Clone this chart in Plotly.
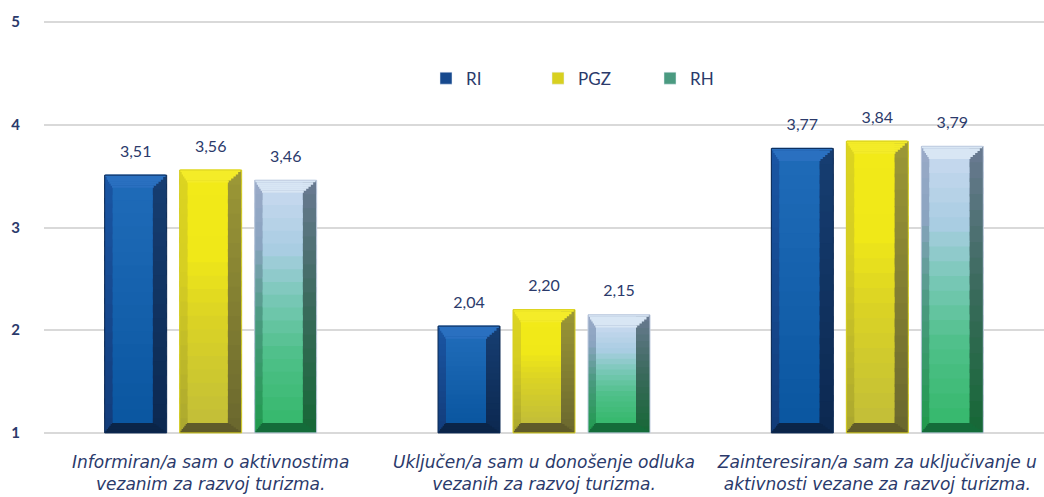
import plotly.graph_objects as go

# ---------------- data ----------------
categories = [
    "Informiran/a sam o aktivnostima<br>vezanim za razvoj turizma.",
    "Uključen/a sam u donošenje odluka<br>vezanih za razvoj turizma.",
    "Zainteresiran/a sam za uključivanje u<br>aktivnosti vezane za razvoj turizma.",
]
series_names = ["RI", "PGZ", "RH"]
ri_values = [3.51, 2.04, 3.77]
pgz_values = [3.56, 2.20, 3.84]
rh_values = [3.46, 2.15, 3.79]
y_tick_values = [1, 2, 3, 4, 5]
y_min, y_max = 1, 5

values = {"RI": ri_values, "PGZ": pgz_values, "RH": rh_values}

# ---------------- styles ----------------
TEXT = "#2b3a6b"
GRID = "#d9d9d9"
styles = {
    "RI": dict(face=[(0, "#0a56a0"), (1, "#1f6bb8")],
               left=[(0, "#123c7a"), (1, "#1a56a4")],
               right=[(0, "#0c2850"), (1, "#163e72")],
               top="#2a70c0", bottom="#0b2548", legend="#17498e", line="#0d2a55"),
    "PGZ": dict(face=[(0, "#c2be38"), (0.45, "#dcd424"), (0.7, "#f0e818"), (1, "#f2ea18")],
                left=[(0, "#aaa630"), (0.6, "#d6ce22"), (1, "#dcd420")],
                right=[(0, "#6a672e"), (1, "#9c9836")],
                top="#f4ec28", bottom="#5f5b2a", legend="#d8d020", line="#d8d020"),
    "RH": dict(face=[(0, "#36b86c"), (0.3, "#4fc08a"), (0.55, "#7ac8b8"), (0.75, "#a9cde2"), (1, "#c6d8ee")],
               left=[(0, "#1f9a4c"), (0.45, "#4a9a80"), (0.75, "#8aa4c0"), (1, "#9aaac8")],
               right=[(0, "#166836"), (0.5, "#3a6a5c"), (1, "#6a7a92")],
               top="#d8e6f4", bottom="#146c3a", legend="#4a9a80", line="#c0cce0"),
}

BAR_W = 0.186
GAP = 0.039
LEFT0 = -0.318
INSET_L = 0.024
INSET_R = 0.042
TOP_H = 0.117
BOT_H = 0.097
N_SEG = 18
N_STEP = 6
PAD = 0.03


def hex2rgb(h):
    h = h.lstrip("#")
    return tuple(int(h[i:i + 2], 16) for i in (0, 2, 4))


def interp(stops, f):
    for (f0, c0), (f1, c1) in zip(stops[:-1], stops[1:]):
        if f0 <= f <= f1:
            t = 0 if f1 == f0 else (f - f0) / (f1 - f0)
            a, b = hex2rgb(c0), hex2rgb(c1)
            r = [round(a[i] + (b[i] - a[i]) * t) for i in range(3)]
            return "rgb(%d,%d,%d)" % tuple(r)
    return stops[-1][1]


fig = go.Figure()


def gradient(bottoms, tops, offset, width, stops):
    for k in range(N_SEG):
        bases, heights = [], []
        for b, t in zip(bottoms, tops):
            h = t - b
            lo = b + h * k / N_SEG
            hi = b + h * min((k + 1.4) / N_SEG, 1.0)
            bases.append(lo)
            heights.append(hi - lo)
        fig.add_trace(go.Bar(
            x=categories, y=heights, base=bases, offset=offset, width=width,
            marker=dict(color=interp(stops, (k + 0.5) / N_SEG), line=dict(width=0)),
            showlegend=False, hoverinfo="skip"))


def bevel(edge, inward, off, color):
    # stepped trapezoid: wide at the outer edge, narrow at the face edge
    for k in range(N_STEP):
        frac = (k + 0.5) / N_STEP
        hstep = TOP_H if inward < 0 else BOT_H
        seg = hstep / N_STEP
        if inward < 0:
            bases = [e - seg * (k + 1) for e in edge]
        else:
            bases = [e + seg * k for e in edge]
        fig.add_trace(go.Bar(
            x=categories, y=[seg * 1.3] * len(edge) if k < N_STEP - 1 else [seg] * len(edge),
            base=bases if inward > 0 or k == 0 else [b - seg * 0.3 for b in bases],
            offset=off + INSET_L * frac, width=BAR_W - (INSET_L + INSET_R) * frac,
            marker=dict(color=color, line=dict(width=0)),
            showlegend=False, hoverinfo="skip"))


for i, name in enumerate(series_names):
    st = styles[name]
    v = values[name]
    off = LEFT0 + i * (BAR_W + GAP)
    base_line = [y_min] * len(v)
    gradient(base_line, v, off, BAR_W, st["right"])
    gradient(base_line, v, off, BAR_W - INSET_R, st["left"])
    gradient([y_min + BOT_H] * len(v), [x - TOP_H for x in v],
             off + INSET_L, BAR_W - INSET_L - INSET_R, st["face"])
    bevel(v, -1, off, st["top"])
    bevel(base_line, 1, off, st["bottom"])
    fig.add_trace(go.Bar(
        x=categories, y=[x - y_min for x in v], base=base_line,
        offset=off, width=BAR_W,
        marker=dict(color="rgba(0,0,0,0)", line=dict(width=1, color=st["line"])),
        showlegend=False, hoverinfo="skip"))
    fig.add_trace(go.Bar(
        x=categories, y=[0.12] * len(v), base=v,
        offset=off, width=BAR_W,
        marker=dict(color="rgba(0,0,0,0)", line=dict(width=0)),
        text=[("%.2f" % x).replace(".", ",") for x in v],
        textposition="outside", cliponaxis=False,
        textfont=dict(family="Lato", size=16, color=TEXT),
        showlegend=False, hoverinfo="skip"))

for name in series_names:
    fig.add_trace(go.Bar(
        x=[categories[0]], y=[None], name=name,
        marker=dict(color=styles[name]["legend"]), hoverinfo="skip"))

# edge gridlines (plotly skips grid lines at the ends of the range)
for yv in (y_min, y_max):
    fig.add_shape(type="line", xref="paper", x0=0, x1=1, yref="y", y0=yv, y1=yv,
                  line=dict(color=GRID, width=1.5), layer="below")

fig.update_layout(
    width=1044, height=497,
    barmode="overlay",
    paper_bgcolor="white", plot_bgcolor="white",
    margin=dict(l=44, r=0, t=19, b=61),
    font=dict(family="Lato", color=TEXT),
    showlegend=True,
    legend=dict(orientation="h", x=0.55, xanchor="center", y=0.857, yanchor="middle",
                font=dict(family="Lato", size=17, color=TEXT),
                entrywidth=67, itemwidth=30, bgcolor="rgba(0,0,0,0)"),
    xaxis=dict(type="category", showgrid=False, showline=False, ticks="",
               tickfont=dict(family="DejaVu Sans", size=17, color=TEXT, style="italic"),
               ticklabelstandoff=14),
    yaxis=dict(range=[y_min - PAD, y_max + PAD], tickvals=y_tick_values, showgrid=True,
               gridcolor=GRID, gridwidth=1.5, zeroline=False, showline=False,
               tickfont=dict(family="Lato", size=15, color=TEXT, weight="bold"),
               ticklabelstandoff=23),
)

fig.write_html("out.html", config={"displayModeBar": False},
               post_script="document.body.style.margin='0';")
